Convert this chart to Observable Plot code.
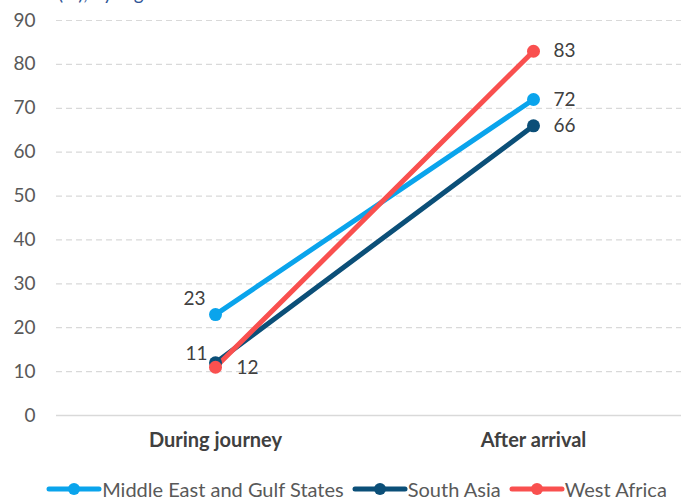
<!DOCTYPE html>
<html>
<head>
<meta charset="utf-8">
<script src="https://cdn.jsdelivr.net/npm/d3@7"></script>
<script src="https://cdn.jsdelivr.net/npm/@observablehq/plot@0.6"></script>
<style>
  body { margin: 0; background: #fff; font-family: Lato, "Open Sans", sans-serif; overflow: hidden; }
  #wrap { position: relative; width: 681px; height: 497px; overflow: hidden; }
  #subtitle { position: absolute; top: -19px; left: 58px; color: #2F5597; font-size: 19px; white-space: nowrap; }
  #chart { position: absolute; top: 0; left: 0; }
  #legend { position: absolute; top: 477px; left: 0; width: 681px; display: flex; justify-content: center; gap: 8px; font-size: 20px; color: #595959; padding-left: 32px; box-sizing: border-box; }
  .item { display: flex; align-items: center; gap: 0px; white-space: nowrap; }
</style>
</head>
<body>
<div id="wrap">
  <div id="subtitle">(%), by region</div>
  <div id="chart"></div>
  <div id="legend"></div>
</div>
<script>
const stages = ["During journey", "After arrival"];
const regions = ["Middle East and Gulf States", "South Asia", "West Africa"];
const colors = ["#0AA4EC", "#0B4F78", "#F9504F"];
const middleEast = [23, 72];
const southAsia = [12, 66];
const westAfrica = [11, 83];
const yTicks = [0, 10, 20, 30, 40, 50, 60, 70, 80, 90];

const seriesValues = [middleEast, southAsia, westAfrica];
const data = [];
regions.forEach((r, i) => stages.forEach((s, j) => data.push({region: r, stage: s, value: seriesValues[i][j]})));

// label placement groups (style only)
const placements = [
  {test: d => d.stage === "After arrival", dx: 20, dy: 0, anchor: "start"},
  {test: d => d.stage === "During journey" && d.region === regions[0], dx: -10, dy: -16, anchor: "end"},
  {test: d => d.stage === "During journey" && d.region === regions[1], dx: 21, dy: 5, anchor: "start"},
  {test: d => d.stage === "During journey" && d.region === regions[2], dx: -8, dy: -13, anchor: "end"},
];

const W = 681, H = 460;
const plot = Plot.plot({
  width: W, height: H,
  marginLeft: 56, marginRight: 0, marginTop: 20, marginBottom: 45,
  style: {fontFamily: "Lato, 'Open Sans', sans-serif", fontSize: "19px", color: "#595959", background: "transparent"},
  x: {type: "point", domain: stages, range: [215, 533], padding: 0, label: null},
  y: {domain: [0, 90], label: null},
  color: {domain: regions, range: colors},
  marks: [
    Plot.ruleY(yTicks.filter(t => t > 0), {stroke: "#D9D9D9", strokeDasharray: "6,4", strokeWidth: 1.2}),
    Plot.ruleY([0], {stroke: "#D9D9D9", strokeWidth: 1.5}),
    Plot.axisY({ticks: yTicks, tickSize: 0, tickPadding: 21, fontSize: 19, fill: "#595959"}),
    Plot.axisX({tickSize: 0, tickPadding: 17, fontSize: 20, fontWeight: "bold", fill: "#404040"}),
    Plot.line(data, {x: "stage", y: "value", z: "region", stroke: "region", strokeWidth: 5, strokeLinecap: "round"}),
    Plot.dot(data, {x: "stage", y: "value", fill: "region", r: 6.5}),
    ...placements.map(p => Plot.text(data.filter(p.test), {
      x: "stage", y: "value", text: d => String(d.value),
      dx: p.dx, dy: p.dy, textAnchor: p.anchor, fill: "#404040", fontSize: 19
    }))
  ]
});
document.getElementById("chart").appendChild(plot);

const legend = document.getElementById("legend");
regions.forEach((r, i) => {
  const item = document.createElement("div");
  item.className = "item";
  item.innerHTML = `<svg width="56" height="14"><line x1="3" y1="7" x2="53" y2="7" stroke="${colors[i]}" stroke-width="5" stroke-linecap="round"/><circle cx="28" cy="7" r="6" fill="${colors[i]}"/></svg><span>${r}</span>`;
  legend.appendChild(item);
});
</script>
</body>
</html>
